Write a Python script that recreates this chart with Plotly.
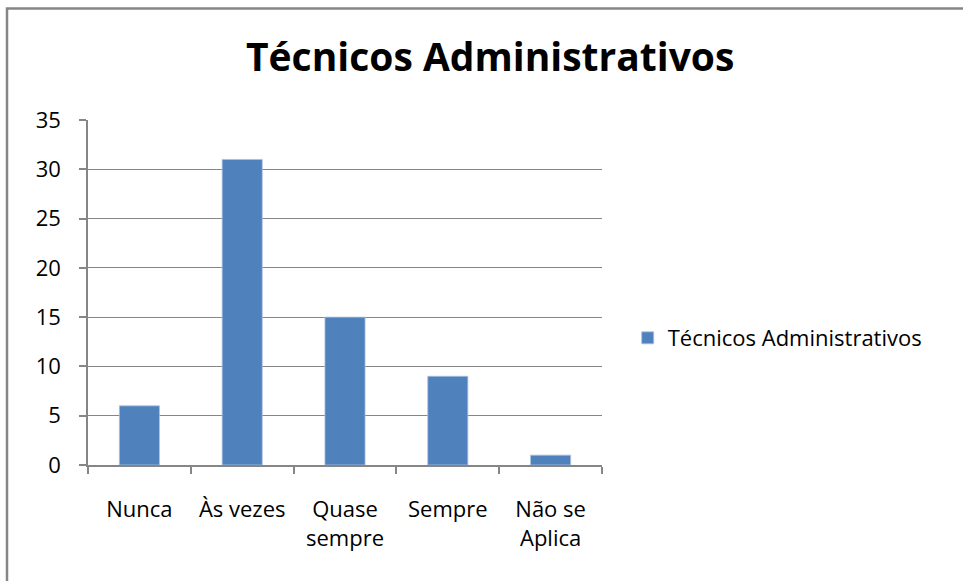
import plotly.graph_objects as go

categories = ["Nunca", "Às vezes", "Quase<br>sempre", "Sempre", "Não se<br>Aplica"]
values = [6, 31, 15, 9, 1]
series_name = "Técnicos Administrativos"
y_ticks = [0, 5, 10, 15, 20, 25, 30, 35]

FONT = "Open Sans"
GRAY = "#868686"

fig = go.Figure()
fig.add_trace(go.Bar(
    x=categories, y=values, name=series_name,
    marker=dict(color="#4F81BD", line=dict(color="#A9C1E0", width=0.8)),
    width=0.39,
))

fig.update_layout(
    width=963, height=581,
    margin=dict(l=88, r=361, t=120, b=116),
    paper_bgcolor="white", plot_bgcolor="white",
    font=dict(family=FONT, size=22, color="black"),
    title=dict(text="<b>Técnicos Administrativos</b>", x=0.509, xref="container",
               xanchor="center", y=1 - 57/581, yref="container", yanchor="middle",
               font=dict(family=FONT, size=39, color="black")),
    showlegend=True,
    legend=dict(x=1.05, y=0.368, xanchor="left", yanchor="middle",
                font=dict(family=FONT, size=22, color="black"),
                itemwidth=30, bgcolor="rgba(0,0,0,0)"),
    xaxis=dict(showline=True, linecolor=GRAY, linewidth=1.5, ticks="outside",
               tickson="boundaries", ticklen=7, tickcolor=GRAY, tickwidth=1.5,
               showgrid=False, ticklabelstandoff=24,
               tickfont=dict(family=FONT, size=22, color="black")),
    yaxis=dict(range=[0, 35], tickvals=y_ticks, showline=True, linecolor=GRAY,
               linewidth=1.5, ticks="outside", ticklen=7, tickcolor=GRAY, tickwidth=1.5,
               showgrid=True, gridcolor=GRAY, gridwidth=1, zeroline=False,
               ticklabelstandoff=14,
               tickfont=dict(family=FONT, size=22, color="black")),
    shapes=[dict(type="rect", xref="paper", yref="paper",
                 x0=(7 - 88) / 514, x1=2.5, y0=-2, y1=(465 - 8.5) / 345,
                 line=dict(color=GRAY, width=2.5), fillcolor="rgba(0,0,0,0)", layer="below")],
)

fig.write_html("out.html", post_script="document.body.style.margin='0px';",
               config={"displayModeBar": False})
